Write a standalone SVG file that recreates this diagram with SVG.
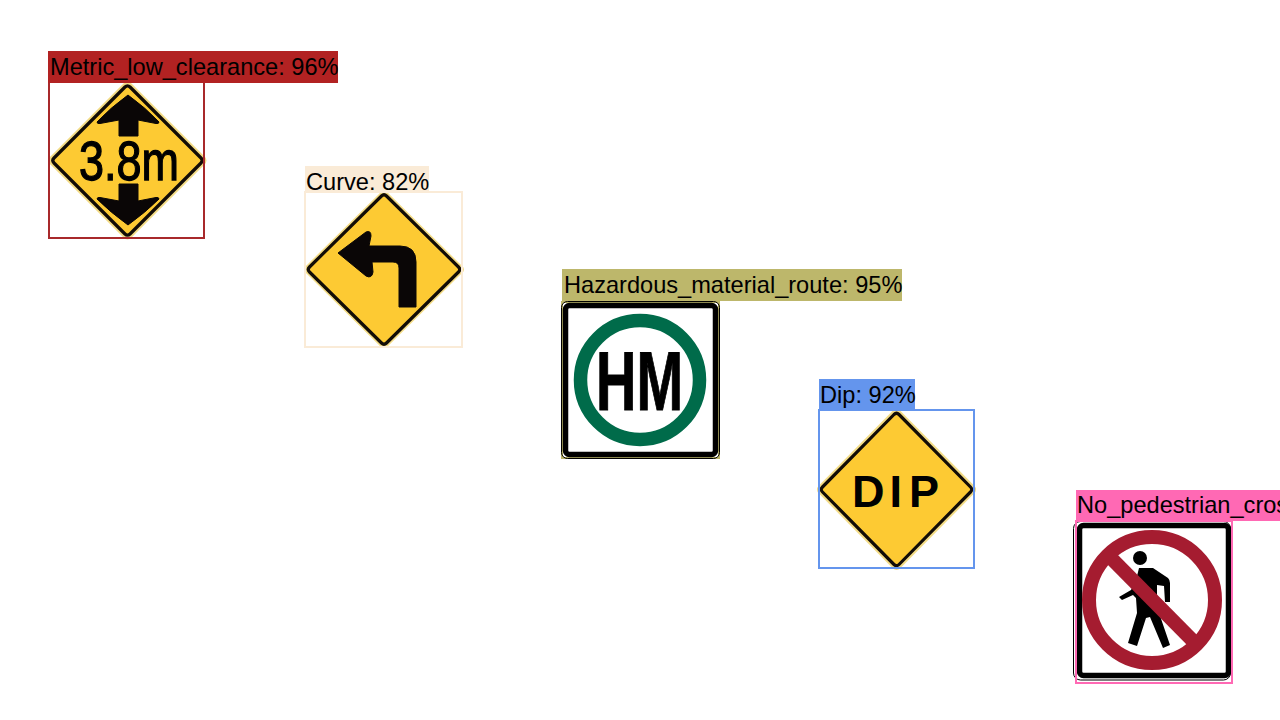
<svg xmlns="http://www.w3.org/2000/svg" width="1280" height="720" viewBox="0 0 1280 720">
<style>
text{font-family:"Liberation Sans",Arial,sans-serif;fill:#000}
.lbl{font-size:23.600px}
.box{fill:none;stroke-width:2}
.halo{fill:none;stroke:#f3dc86;stroke-width:3;stroke-linejoin:round}
.dia{fill:#fdca33;stroke:#120c06;stroke-width:3.200;stroke-linejoin:round}
.blk{fill:#0a0606;stroke:#0a0606;stroke-linejoin:round}
.plate{fill:#fff;stroke:#000;stroke-width:5.500}
.edge{fill:none;stroke:#000;stroke-width:1}
</style>
<rect width="1280" height="720" fill="#fff"/>
<g id="metric-low-clearance">
<path class="halo" d="M124 85Q127.500 81 131 85L203 157Q207 160.500 203 164L131 236Q127.500 240 124 236L52 164Q48 160.500 52 157Z"/>
<path class="dia" d="M125 87Q127.500 84.500 130 87L201 158Q203.500 160.500 201 163L130 234Q127.500 236.500 125 234L54 163Q51.500 160.500 54 158Z"/>
<path class="blk" stroke-width="1" d="M128 95Q146 108 159 122Q159 124 156 123.500L138 120V136H119V120L100 123.500Q97 124 97 122Q110 108 128 95Z"/>
<path class="blk" stroke-width="1" d="M128 225Q146 212 159 199Q159 197 156 197.500L138 201V184H119V201L100 197.500Q97 197 97 199Q110 212 128 225Z"/>
<text x="79" y="180" font-size="56" textLength="100" lengthAdjust="spacingAndGlyphs" stroke="#000" stroke-width="1.300">3.8m</text>
<rect class="box" x="49" y="82" width="155" height="156" stroke="#a8292b"/>
<rect x="48" y="51" width="290" height="32" fill="#b22222"/>
<text class="lbl" x="50" y="75">Metric_low_clearance: 96%</text>
</g>
<g id="curve">
<path class="halo" d="M381 194Q384 191 387 194L461 267Q464 269.500 461 272L387 345Q384 348 381 345L307 272Q304 269.500 307 267Z"/>
<path class="dia" d="M381.500 196Q384 193.500 386.500 196L458.500 267Q461 269.500 458.500 272L386.500 343Q384 345.500 381.500 343L309.500 272Q307 269.500 309.500 267Z"/>
<path class="blk" stroke-width="1" d="M338 253L366 232Q371 230 371 236L369 246H400Q416 246 416 262V307H399V268Q399 262 393 262H372L373 272Q372 279 366 276Z"/>
<rect class="box" x="305" y="192" width="157" height="155" stroke="#faebd7"/>
<rect x="305" y="166" width="124" height="26" fill="#faebd7"/>
<text class="lbl" x="306" y="190">Curve: 82%</text>
</g>
<g id="hazardous-material-route">
<rect class="box" x="562" y="302" width="157" height="156" stroke="#bdb76b"/>
<rect class="edge" x="561.500" y="301.500" width="158" height="157" rx="6"/>
<rect class="plate" x="565.500" y="305.500" width="150" height="149" rx="4"/>
<circle cx="640" cy="380" r="59.500" fill="none" stroke="#006b4a" stroke-width="13.500"/>
<text x="596" y="410" font-size="84" font-weight="700" textLength="87" lengthAdjust="spacingAndGlyphs" stroke="#000" stroke-width="1">HM</text>
<rect x="562" y="269" width="340" height="32" fill="#bdb76b"/>
<text class="lbl" x="564" y="293">Hazardous_material_route: 95%</text>
</g>
<g id="dip">
<path class="halo" d="M893.500 412Q896.500 409 899.500 412L973 486.500Q976 489.500 973 492.500L899.500 567Q896.500 570 893.500 567L820 492.500Q817 489.500 820 486.500Z"/>
<path class="dia" d="M894 414.500Q896.500 412 899 414.500L970.500 487Q973 489.500 970.500 492L899 564.500Q896.500 567 894 564.500L822.500 492Q820 489.500 822.500 487Z"/>
<text x="852 889.500 909" y="507" font-size="45" font-weight="700">DIP</text>
<rect class="box" x="819" y="410" width="155" height="158" stroke="#6495ed"/>
<rect x="819" y="379" width="96" height="31" fill="#6495ed"/>
<text class="lbl" x="820" y="403">Dip: 92%</text>
</g>
<g id="no-pedestrian-crossing">
<rect class="edge" x="1073.500" y="521.500" width="157" height="158.500" rx="7"/>
<rect class="plate" x="1079.500" y="525.500" width="149" height="150" rx="4"/>
<circle cx="1140" cy="558" r="7" fill="#000"/>
<path fill="#000" d="M1139 568L1153 568L1168 578Q1170 580 1170 583L1170 602L1165 602L1164 586L1157 585L1157 607L1170 645L1163 648L1150 617L1146 618L1137 646L1128 643L1137 613L1136 598L1133 595L1122 600L1119 597L1131 590L1136 580Z"/>
<circle cx="1152" cy="600" r="63" fill="none" stroke="#a51c30" stroke-width="14"/>
<path stroke="#a51c30" stroke-width="14" d="M1109 556L1196 644"/>
<rect class="box" x="1076" y="521" width="156" height="162" stroke="#ff69b4"/>
<rect x="1076" y="490" width="204" height="31" fill="#ff69b4"/>
<text class="lbl" x="1077" y="513">No_pedestrian_cross</text>
</g>
</svg>
